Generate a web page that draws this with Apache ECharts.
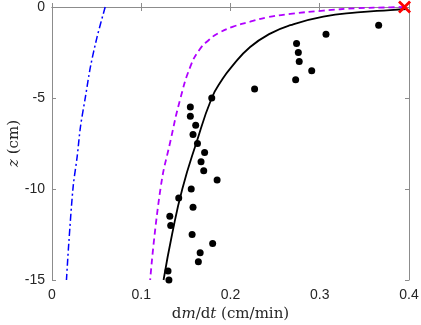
<!DOCTYPE html>
<html>
<head>
<meta charset="utf-8">
<script src="https://cdn.jsdelivr.net/npm/echarts@6/dist/echarts.min.js"></script>
<style>
  html, body { margin: 0; padding: 0; background: #fff; }
  #main { width: 421px; height: 325px; }
</style>
</head>
<body>
<div id="main"></div>
<script>
// 观测点 (深度 z, dm/dt)
var obsZ = [-1, -1.5, -2, -2.5, -3, -3.5, -4, -4.5, -5, -5.5, -6, -6.5, -7, -7.5, -8,
            -8.5, -9, -9.5, -10, -10.5, -11, -11.5, -12, -12.5, -13, -13.5, -14, -14.5, -15];
var obsRate = [0.366, 0.307, 0.274, 0.276, 0.277, 0.291, 0.273, 0.227, 0.179, 0.155, 0.155,
               0.161, 0.158, 0.163, 0.171, 0.167, 0.170, 0.185, 0.156, 0.142, 0.158, 0.132,
               0.133, 0.157, 0.180, 0.166, 0.164, 0.130, 0.131];

// 黑色实线
var solidZ = [-0.11, -0.17, -0.3, -0.53, -1.0, -1.45, -2.2, -3.3, -4.0, -5.0, -7.5, -10, -12.5, -15];
var solidRate = [0.397, 0.379, 0.342, 0.304, 0.267, 0.245, 0.222, 0.201, 0.1905, 0.179, 0.1615, 0.146, 0.1345, 0.125];

// 紫色虚线
var dashZ = [0, -0.02, -0.07, -0.2, -0.38, -0.57, -0.81, -1.08, -1.45, -1.8, -2.36, -3.28, -5.0, -7.3, -10, -15];
var dashRate = [0.395, 0.379, 0.342, 0.304, 0.267, 0.241, 0.222, 0.203, 0.186, 0.176, 0.165, 0.155, 0.144, 0.133, 0.1215, 0.110];

// 蓝色点划线
var dotZ = [0, -1.63, -3.28, -4.93, -6.58, -8.22, -9.87, -12.98, -15];
var dotRate = [0.0596, 0.0506, 0.0431, 0.0375, 0.0319, 0.0282, 0.0237, 0.0188, 0.0162];

// 红叉
var markZ = [0];
var markRate = [0.395];

var xTicks = [0, 0.1, 0.2, 0.3, 0.4];
var yTicks = [-15, -10, -5, 0];

function pairs(xs, zs) {
    var res = [];
    for (var i = 0; i < xs.length; i++) {
        res.push([xs[i], zs[i]]);
    }
    return res;
}

var axisGray = '#8c8c8c';
var labelColor = '#262626';
var nameRich = {
    r: { fontFamily: 'DejaVu Serif', fontSize: 15, color: labelColor },
    i: { fontFamily: 'DejaVu Serif', fontStyle: 'italic', fontSize: 15, color: labelColor }
};

var myChart = echarts.init(document.getElementById('main'));
myChart.setOption({
    backgroundColor: '#fff',
    animation: false,
    grid: { left: 52, right: 12, top: 7, bottom: 45, outerBoundsMode: 'none' },
    xAxis: [
        {
            type: 'value',
            min: xTicks[0],
            max: xTicks[xTicks.length - 1],
            interval: 0.1,
            position: 'bottom',
            axisLine: { lineStyle: { color: axisGray, width: 1 } },
            axisTick: { inside: true, length: 4, lineStyle: { color: axisGray } },
            splitLine: { show: false },
            axisLabel: { color: labelColor, fontSize: 14, fontFamily: 'Liberation Sans', margin: 8 },
            name: '{r|d}{i|m}{r|/d}{i|t}{r| (cm/min)}',
            nameLocation: 'middle',
            nameGap: 27,
            nameMoveOverlap: false,
            nameTextStyle: { rich: nameRich }
        },
        {
            type: 'value',
            min: xTicks[0],
            max: xTicks[xTicks.length - 1],
            interval: 0.1,
            position: 'top',
            axisLine: { lineStyle: { color: axisGray, width: 1 } },
            axisTick: { inside: true, length: 4, lineStyle: { color: axisGray } },
            splitLine: { show: false },
            axisLabel: { show: false }
        }
    ],
    yAxis: [
        {
            type: 'value',
            min: yTicks[0],
            max: yTicks[yTicks.length - 1],
            interval: 5,
            position: 'left',
            axisLine: { onZero: false, lineStyle: { color: axisGray, width: 1 } },
            axisTick: { inside: true, length: 4, lineStyle: { color: axisGray } },
            splitLine: { show: false },
            axisLabel: { color: labelColor, fontSize: 14, fontFamily: 'Liberation Sans', margin: 7 },
            name: '{i|z}{r| (cm)}',
            nameLocation: 'middle',
            nameRotate: 90,
            nameGap: 30,
            nameMoveOverlap: false,
            nameTextStyle: { rich: nameRich }
        },
        {
            type: 'value',
            min: yTicks[0],
            max: yTicks[yTicks.length - 1],
            interval: 5,
            position: 'right',
            axisLine: { onZero: false, lineStyle: { color: axisGray, width: 1 } },
            axisTick: { inside: true, length: 4, lineStyle: { color: axisGray } },
            splitLine: { show: false },
            axisLabel: { show: false }
        }
    ],
    series: [
        {
            type: 'line',
            data: pairs(dotRate, dotZ),
            showSymbol: false,
            smooth: 0.3,
            lineStyle: { color: '#0000ff', width: 1.5, type: [7, 3, 2, 3] },
            z: 2
        },
        {
            type: 'line',
            data: pairs(dashRate, dashZ),
            showSymbol: false,
            smooth: 0.5,
            lineStyle: { color: '#b000ff', width: 1.8, type: [6, 4] },
            z: 3
        },
        {
            type: 'line',
            data: pairs(solidRate, solidZ),
            showSymbol: false,
            smooth: 0.5,
            lineStyle: { color: '#000', width: 1.8 },
            z: 4
        },
        {
            type: 'scatter',
            data: pairs(obsRate, obsZ),
            symbol: 'circle',
            symbolSize: 7,
            itemStyle: { color: '#000', opacity: 1 },
            z: 5
        },
        {
            type: 'scatter',
            data: pairs(markRate, markZ),
            symbol: 'path://M0,1.5L1.5,0L5,3.5L8.5,0L10,1.5L6.5,5L10,8.5L8.5,10L5,6.5L1.5,10L0,8.5L3.5,5Z',
            symbolSize: 13,
            itemStyle: { color: '#ff0000', opacity: 1 },
            clip: false,
            z: 6
        }
    ]
});
</script>
</body>
</html>
